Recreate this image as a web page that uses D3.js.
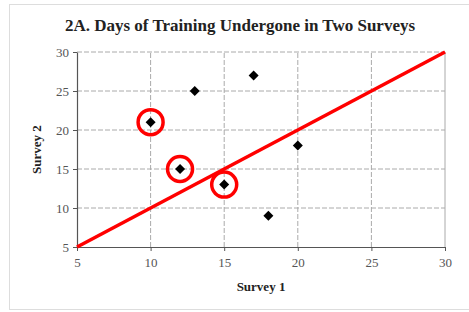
<!DOCTYPE html>
<html>
<head>
<meta charset="utf-8">
<script src="https://cdn.jsdelivr.net/npm/d3@7"></script>
<style>
  body { margin: 0; background: #fff; }
  text { font-family: "Liberation Serif", "Times New Roman", serif; }
</style>
</head>
<body>
<div id="chart"></div>
<script>
var survey1 = [10, 12, 13, 15, 17, 18, 20];
var survey2 = [21, 15, 25, 13, 27, 9, 18];
var circled = [10, 12, 15]; // survey1 values that are ringed
var ticks = [5, 10, 15, 20, 25, 30];
var lineEnds = [[5, 5], [30, 30]];

var w = 469, h = 312;
var m = { left: 77, right: 24, top: 52, bottom: 65 };

var svg = d3.select("#chart")
  .append("svg")
  .attr("width", w)
  .attr("height", h);

// outer frame
svg.append("rect")
  .attr("x", 9.5).attr("y", 4.5)
  .attr("width", 470).attr("height", 305)
  .attr("fill", "none")
  .attr("stroke", "#ddd");

var x = d3.scaleLinear().domain([5, 30]).range([m.left, w - m.right]);
var y = d3.scaleLinear().domain([5, 30]).range([h - m.bottom, m.top]);

// grid
svg.selectAll(".vg")
  .data(ticks.slice(1, -1))
  .enter().append("line")
  .attr("x1", function(d){ return x(d); })
  .attr("x2", function(d){ return x(d); })
  .attr("y1", y(5)).attr("y2", y(30))
  .attr("stroke", "#aaa")
  .attr("stroke-dasharray", "5,2");

svg.selectAll(".hg")
  .data(ticks.slice(1))
  .enter().append("line")
  .attr("x1", x(5)).attr("x2", x(30))
  .attr("y1", function(d){ return y(d); })
  .attr("y2", function(d){ return y(d); })
  .attr("stroke", "#aaa")
  .attr("stroke-dasharray", "5,2");

svg.append("line")
  .attr("x1", x(30)).attr("x2", x(30))
  .attr("y1", y(5)).attr("y2", y(30))
  .attr("stroke", "#aaa");

// axes
var xAxis = svg.append("g")
  .attr("transform", "translate(0," + y(5) + ")")
  .call(d3.axisBottom(x).tickValues(ticks).tickSize(4).tickSizeOuter(0));
var yAxis = svg.append("g")
  .attr("transform", "translate(" + x(5) + ",0)")
  .call(d3.axisLeft(y).tickValues(ticks).tickSize(4).tickSizeOuter(0));

[xAxis, yAxis].forEach(function(a){
  a.select(".domain").attr("stroke", "#555").attr("stroke-width", 1.2);
  a.selectAll(".tick line").attr("stroke", "#555");
  a.selectAll("text")
    .style("font-family", "'Liberation Serif', serif")
    .style("font-size", "13px")
    .attr("fill", "#555");
});
xAxis.selectAll("text").attr("dy", "1em").attr("y", 7);
yAxis.selectAll("text").attr("x", -8);

// diagonal line
svg.append("line")
  .attr("x1", x(lineEnds[0][0])).attr("y1", y(lineEnds[0][1]))
  .attr("x2", x(lineEnds[1][0])).attr("y2", y(lineEnds[1][1]))
  .attr("stroke", "#ff0000")
  .attr("stroke-width", 3.5);

// points
var pts = survey1.map(function(d, i){ return { a: d, b: survey2[i] }; });

svg.selectAll(".pt")
  .data(pts)
  .enter().append("path")
  .attr("d", d3.symbol().type(d3.symbolSquare).size(50))
  .attr("transform", function(d){ return "translate(" + x(d.a) + "," + y(d.b) + ") rotate(45)"; })
  .attr("fill", "#000");

svg.selectAll(".ring")
  .data(pts.filter(function(d){ return circled.indexOf(d.a) >= 0; }))
  .enter().append("circle")
  .attr("cx", function(d){ return x(d.a); })
  .attr("cy", function(d){ return y(d.b); })
  .attr("r", 12.5)
  .attr("fill", "none")
  .attr("stroke", "#ff0000")
  .attr("stroke-width", 3.5);

// titles
svg.append("text")
  .attr("x", 240).attr("y", 31)
  .attr("text-anchor", "middle")
  .style("font-size", "17px")
  .style("font-weight", "bold")
  .attr("fill", "#222")
  .text("2A. Days of Training Undergone in Two Surveys");

svg.append("text")
  .attr("x", (x(5) + x(30)) / 2).attr("y", 291)
  .attr("text-anchor", "middle")
  .style("font-size", "13px")
  .style("font-weight", "bold")
  .attr("fill", "#222")
  .text("Survey 1");

svg.append("text")
  .attr("transform", "translate(41," + (y(5) + y(30)) / 2 + ") rotate(-90)")
  .attr("text-anchor", "middle")
  .style("font-size", "13px")
  .style("font-weight", "bold")
  .attr("fill", "#222")
  .text("Survey 2");
</script>
</body>
</html>
